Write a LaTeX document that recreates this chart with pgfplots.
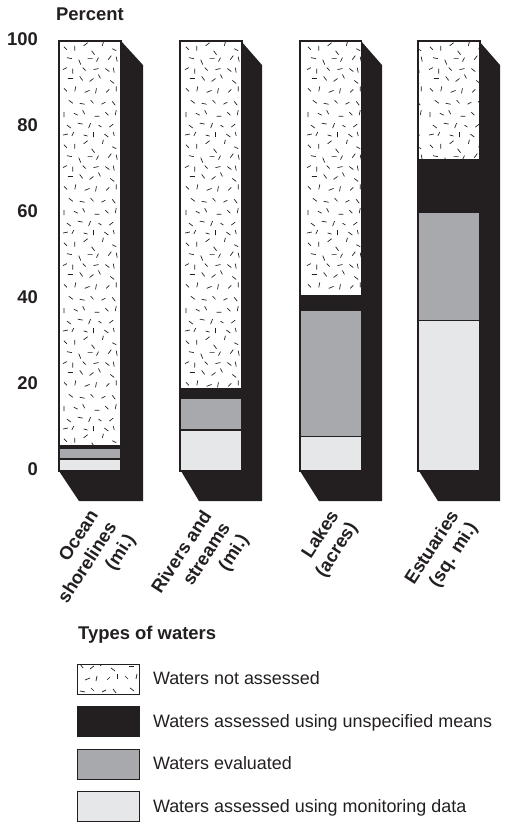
\documentclass[border=0pt]{standalone}
\usepackage{fontspec}
\setmainfont{Liberation Sans}
\usepackage{pgfplots}
\pgfplotsset{compat=1.18}
\usetikzlibrary{patterns}

\definecolor{dark}{HTML}{231F20}
\definecolor{midgray}{HTML}{A7A9AC}
\definecolor{lightgray}{HTML}{E6E7E8}

% short dash of the stipple: x y dx dy in bp
\newcommand{\dd}[4]{%
  \pgfpathmoveto{\pgfpoint{#1bp}{#2bp}}%
  \pgfpathlineto{\pgfpoint{\dimexpr#1bp+#3bp\relax}{\dimexpr#2bp+#4bp\relax}}%
  \pgfusepath{stroke}}
\pgfdeclarepatternformonly{stipple}{\pgfpointorigin}{\pgfpoint{61bp}{98bp}}{\pgfpoint{61bp}{98bp}}{%
  \pgfsetlinewidth{0.7bp}%
  \dd{3}{92}{3}{-3}\dd{14}{88}{0}{5}\dd{23}{93}{4}{3}\dd{31}{88}{3}{-4}\dd{42}{93}{1}{4}\dd{52}{90}{4}{-2}%
  \dd{6}{81}{5}{-1}\dd{18}{79}{2}{-5}\dd{27}{80}{5}{0}\dd{38}{81}{-2}{-4}\dd{48}{79}{3}{4}\dd{56}{82}{1}{-5}%
  \dd{2}{69}{4}{2}\dd{12}{70}{0}{-5}\dd{22}{71}{3}{-3}\dd{33}{69}{5}{1}\dd{45}{70}{4}{-3}\dd{54}{66}{-1}{5}%
  \dd{7}{60}{5}{0}\dd{19}{62}{3}{-4}\dd{29}{57}{4}{3}\dd{40}{60}{-2}{4}\dd{50}{58}{4}{-3}%
  \dd{3}{50}{3}{-3}\dd{14}{47}{1}{5}\dd{24}{46}{5}{2}\dd{36}{50}{-1}{-5}\dd{46}{46}{3}{3}\dd{56}{47}{0}{5}%
  \dd{8}{38}{4}{-3}\dd{19}{35}{5}{-1}\dd{30}{38}{3}{-3}\dd{41}{34}{4}{2}\dd{52}{37}{3}{-4}%
  \dd{3}{26}{0}{-5}\dd{13}{25}{4}{-2}\dd{24}{24}{-2}{4}\dd{34}{22}{5}{0}\dd{45}{26}{3}{-3}\dd{55}{23}{1}{5}%
  \dd{6}{13}{4}{-3}\dd{17}{15}{5}{-1}\dd{28}{10}{2}{5}\dd{38}{13}{3}{-2}\dd{49}{11}{4}{3}%
  \dd{2}{3}{5}{1}\dd{13}{6}{-2}{-4}\dd{23}{3}{4}{-1}\dd{33}{1}{0}{5}\dd{44}{4}{4}{-3}\dd{54}{2}{-1}{4}%
}

\begin{document}
\begin{tikzpicture}
\begin{axis}[
    width=506bp,
    height=824bp,
    scale only axis,
    xmin=0, xmax=506,
    ymin=-82.09, ymax=109.53,
    clip=false,
    axis line style={draw=none},
    tick style={draw=none},
    xtick={88,201,328,448},
    xticklabels={{Ocean\\shorelines\\(mi.)},{Rivers and\\streams\\(mi.)},{Lakes\\(acres)},{Estuaries\\(sq. mi.)}},
    xticklabel style={yshift=316bp, rotate=57, anchor=north east, align=right,
        font=\fontsize{18.5}{22}\bfseries\selectfont, text=dark, inner sep=0pt},
    ytick={0,20,40,60,80,100},
    yticklabel style={xshift=38bp, yshift=1.5bp, anchor=east, inner sep=0pt,
        font=\fontsize{18.5}{20}\bfseries\selectfont, text=dark},
    /pgf/number format/assume math mode=true,
    legend cell align=left,
    legend style={
        at={(axis cs:77,-44.8)}, anchor=north west,
        draw=none, fill=none, inner sep=0pt, outer sep=0pt,
        font=\fontsize{18}{20}\selectfont, text=dark,
        row sep=11.5bp,
        nodes={inner sep=0pt},
    },
    legend image code/.code={\draw[#1] (0bp,-15bp) rectangle (62bp,15bp); \path (75bp,0bp);},
]
% side and floor of each column
\addplot[forget plot, draw=none, fill=dark] coordinates {(121,100) (143,94.4) (143,-7) (79,-7) (59,0) (121,0)};
\addplot[forget plot, draw=none, fill=dark] coordinates {(241,100) (262,94.4) (262,-7) (199,-7) (181,0) (241,0)};
\addplot[forget plot, draw=none, fill=dark] coordinates {(361,100) (382,94.4) (382,-7) (319,-7) (300,0) (361,0)};
\addplot[forget plot, draw=none, fill=dark] coordinates {(479,100) (500,94.4) (500,-7) (438,-7) (419,0) (479,0)};

% monitoring data
\addplot[forget plot, ybar, stack plots=y, bar width=61.5, bar shift=0, draw=dark, line width=1.8bp, fill=lightgray]
    coordinates {(90,2.8) (211,9.5) (330.7,8) (449,35)};
% evaluated
\addplot[forget plot, ybar, stack plots=y, bar width=61.5, bar shift=0, draw=dark, line width=1.8bp, fill=midgray]
    coordinates {(90,2.6) (211,7.5) (330.7,29.4) (449,25.2)};
% unspecified means
\addplot[forget plot, ybar, stack plots=y, bar width=61.5, bar shift=0, draw=dark, line width=1.8bp, fill=dark]
    coordinates {(90,0.5) (211,2) (330.7,3.3) (449,12.1)};
% not assessed
\addplot[forget plot, ybar, stack plots=y, bar width=61.5, bar shift=0, draw=dark, line width=1.8bp, pattern=stipple, pattern color=dark]
    coordinates {(90,94.1) (211,81) (330.7,59.3) (449,27.7)};

\addlegendimage{draw=dark, line width=1bp, pattern=stipple, pattern color=dark}
\addlegendentry{Waters not assessed}
\addlegendimage{draw=dark, line width=1bp, fill=dark}
\addlegendentry{Waters assessed using unspecified means}
\addlegendimage{draw=dark, line width=1bp, fill=midgray}
\addlegendentry{Waters evaluated}
\addlegendimage{draw=dark, line width=1bp, fill=lightgray}
\addlegendentry{Waters assessed using monitoring data}

\node[anchor=base west, inner sep=0pt, text=dark, font=\fontsize{18.5}{20}\bfseries\selectfont] at (axis cs:78,-39.2) {Types of waters};
\node[anchor=base, inner sep=0pt, text=dark, font=\fontsize{18.5}{20}\bfseries\selectfont] at (axis cs:90,104.7) {Percent};
\end{axis}
\end{tikzpicture}
\end{document}
